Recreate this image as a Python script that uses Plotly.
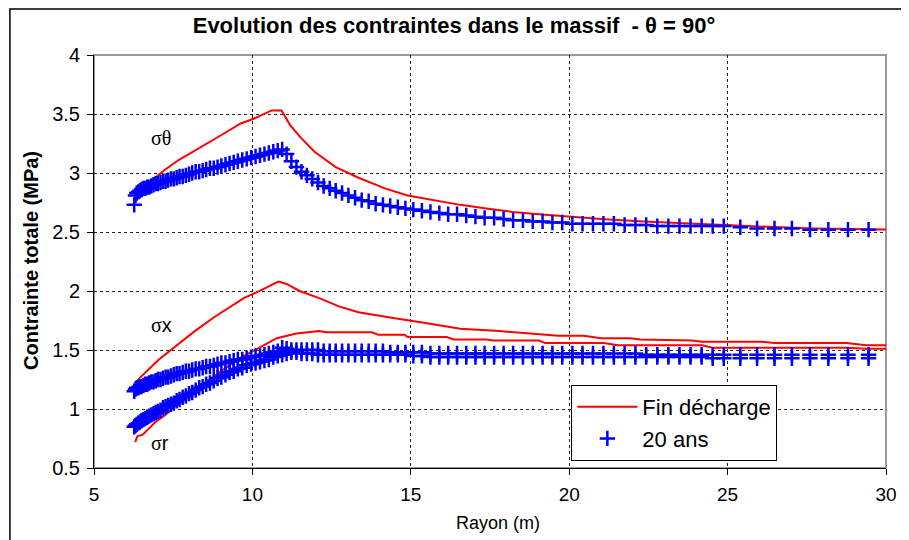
import plotly.graph_objects as go

# ---------------- data ----------------
# "Fin décharge" (red lines)
r_red_theta = [6.30, 6.50, 6.84, 7.25, 7.67, 8.39, 9.01, 9.63, 10.04, 10.61, 10.92, 11.18, 11.49, 11.96,
               12.63, 13.35, 14.18, 14.90, 15.73, 16.56, 17.38, 18.21, 19.04, 19.97, 21.00, 22.34,
               23.88, 25.65, 27.72, 30.20]
s_red_theta = [2.82, 2.86, 2.94, 3.03, 3.11, 3.22, 3.32, 3.42, 3.46, 3.53, 3.53, 3.41, 3.31, 3.18,
               3.05, 2.96, 2.87, 2.81, 2.77, 2.73, 2.70, 2.67, 2.65, 2.63, 2.61, 2.59,
               2.57, 2.55, 2.53, 2.52]

r_red_x = [6.32, 6.43, 7.05, 7.56, 8.18, 8.80, 9.32, 9.73, 10.15, 10.51, 10.82, 11.08, 11.49, 12.11,
           12.73, 13.35, 13.87, 14.49, 15.42, 16.56, 17.80, 18.83, 19.66, 20.47, 21.00, 21.93,
           22.24, 23.88, 24.19, 26.05, 26.48, 28.75, 29.37, 30.20]
s_red_x = [1.22, 1.26, 1.42, 1.53, 1.66, 1.78, 1.87, 1.94, 1.99, 2.04, 2.08, 2.06, 2.00, 1.94,
           1.87, 1.82, 1.80, 1.77, 1.73, 1.68, 1.66, 1.64, 1.62, 1.62, 1.60, 1.60,
           1.59, 1.58, 1.57, 1.57, 1.56, 1.56, 1.54, 1.54]

r_red_r = [6.30, 6.37, 6.53, 6.94, 7.25, 7.67, 8.29, 8.91, 9.53, 10.15, 10.77, 11.39, 12.11, 12.32,
           13.77, 13.97, 14.80, 14.90, 16.14, 16.35, 17.38, 17.59, 19.04, 19.24, 21.10, 21.52,
           24.20, 24.51, 28.75, 29.37, 30.20]
s_red_r = [0.72, 0.77, 0.78, 0.89, 0.95, 1.05, 1.18, 1.30, 1.42, 1.51, 1.60, 1.64, 1.66, 1.65,
           1.65, 1.63, 1.63, 1.61, 1.61, 1.59, 1.59, 1.58, 1.58, 1.56, 1.56, 1.54,
           1.54, 1.52, 1.52, 1.51, 1.51]

# "20 ans" (blue crosses) - shared radius grid
r_blue = [6.27, 6.31, 6.35, 6.40, 6.45, 6.50, 6.56, 6.62, 6.68, 6.74, 6.81, 6.88, 6.95, 7.02, 7.10,
          7.18, 7.26, 7.34, 7.43, 7.52, 7.61, 7.70, 7.80, 7.90, 8.00,
          8.10, 8.21, 8.32, 8.43, 8.54, 8.66, 8.78, 8.90, 9.02, 9.15, 9.28, 9.41, 9.54, 9.68, 9.82,
          9.96, 10.10, 10.24, 10.38, 10.52, 10.66, 10.80, 10.94, 11.08,
          11.23, 11.39, 11.55, 11.72, 11.89, 12.07, 12.25, 12.44, 12.63, 12.83, 13.03, 13.24, 13.45,
          13.67, 13.89, 14.12, 14.35, 14.59, 14.83, 15.08,
          15.35, 15.62, 15.90, 16.18, 16.46, 16.75, 17.04, 17.33, 17.63, 17.93, 18.23, 18.54, 18.85,
          19.16, 19.47, 19.78, 20.10, 20.42, 20.75, 21.08, 21.41, 21.75, 22.09, 22.43, 22.78, 23.13,
          23.48, 23.83, 24.18, 24.53, 24.88,
          25.40, 25.93, 26.48, 27.03, 27.60, 28.18, 28.80, 29.45]
s_blue_theta = [2.73, 2.81, 2.83, 2.84, 2.85, 2.86, 2.87, 2.87, 2.88, 2.88, 2.89, 2.90, 2.91, 2.91, 2.92,
                2.93, 2.93, 2.94, 2.95, 2.95, 2.96, 2.97, 2.97, 2.98, 2.99,
                3.00, 3.01, 3.01, 3.02, 3.03, 3.04, 3.04, 3.05, 3.06, 3.07, 3.08, 3.09, 3.10, 3.11, 3.12,
                3.13, 3.14, 3.15, 3.16, 3.17, 3.18, 3.19, 3.20, 3.16,
                3.10, 3.05, 3.01, 2.98, 2.95, 2.92, 2.89, 2.87, 2.85, 2.83, 2.81, 2.79, 2.77,
                2.76, 2.74, 2.73, 2.72, 2.71, 2.70, 2.69,
                2.68, 2.67, 2.66, 2.65, 2.65, 2.64, 2.63, 2.62, 2.62, 2.61, 2.60, 2.60, 2.59,
                2.59, 2.58, 2.58, 2.57, 2.57, 2.57, 2.57, 2.57, 2.56, 2.56, 2.56, 2.55, 2.55,
                2.55, 2.55, 2.55, 2.55, 2.55,
                2.54, 2.53, 2.53, 2.53, 2.52, 2.52, 2.52, 2.52]
s_blue_x = [1.15, 1.17, 1.18, 1.18, 1.19, 1.19, 1.20, 1.21, 1.21, 1.22, 1.23, 1.23, 1.24, 1.25, 1.25,
            1.26, 1.27, 1.27, 1.28, 1.29, 1.30, 1.30, 1.31, 1.32, 1.32,
            1.33, 1.34, 1.34, 1.35, 1.36, 1.36, 1.37, 1.38, 1.39, 1.39, 1.40, 1.41, 1.42, 1.42, 1.43,
            1.44, 1.45, 1.45, 1.46, 1.47, 1.48, 1.49, 1.52, 1.51,
            1.50, 1.50, 1.50, 1.50, 1.50, 1.50, 1.49, 1.49, 1.49, 1.49, 1.49, 1.49, 1.49,
            1.49, 1.49, 1.49, 1.48, 1.48, 1.48, 1.48,
            1.48, 1.47, 1.47, 1.47, 1.47, 1.47, 1.47, 1.47, 1.47, 1.47, 1.47, 1.47, 1.47,
            1.47, 1.47, 1.47, 1.47, 1.47, 1.47, 1.47, 1.47, 1.47, 1.47, 1.46, 1.46, 1.46,
            1.46, 1.46, 1.46, 1.46, 1.46,
            1.46, 1.46, 1.46, 1.46, 1.46, 1.46, 1.46, 1.46]
s_blue_r = [0.85, 0.86, 0.87, 0.88, 0.89, 0.90, 0.91, 0.92, 0.93, 0.94, 0.95, 0.96, 0.97, 0.98, 0.99,
            1.01, 1.02, 1.03, 1.04, 1.05, 1.07, 1.08, 1.10, 1.11, 1.13,
            1.14, 1.16, 1.18, 1.19, 1.21, 1.22, 1.24, 1.26, 1.27, 1.29, 1.31, 1.32, 1.34, 1.35, 1.37,
            1.38, 1.39, 1.40, 1.41, 1.42, 1.44, 1.45, 1.46, 1.47,
            1.48, 1.48, 1.47, 1.47, 1.47, 1.46, 1.46, 1.46, 1.46, 1.46, 1.46, 1.46, 1.46,
            1.46, 1.46, 1.46, 1.46, 1.46, 1.46, 1.45,
            1.45, 1.44, 1.44, 1.44, 1.44, 1.44, 1.44, 1.44, 1.44, 1.44, 1.44, 1.44, 1.44,
            1.44, 1.44, 1.44, 1.44, 1.44, 1.44, 1.44, 1.44, 1.44, 1.44, 1.44, 1.44, 1.44,
            1.44, 1.44, 1.44, 1.43, 1.43,
            1.43, 1.43, 1.43, 1.43, 1.43, 1.43, 1.43, 1.43]

legend_names = ["Fin décharge", "20 ans"]
curve_labels = ["σθ", "σx", "σr"]
title_text = "Evolution des contraintes dans le massif  - θ = 90°"
x_title = "Rayon (m)"
y_title = "Contrainte totale (MPa)"
x_ticks = [5, 10, 15, 20, 25, 30]
y_ticks = [0.5, 1, 1.5, 2, 2.5, 3, 3.5, 4]

# ---------------- figure ----------------
FONT = "Liberation Sans, Arial, sans-serif"
SERIF = "Liberation Serif, Times New Roman, serif"
RED = "#FF0000"
BLUE = "#0000FF"

# page body has an 8px margin: the figure is sized so that it ends at the window edge
W, H = 901, 532
OFF = 8
PL, PR, PT, PB = 94, 897, 55, 468   # plot area in window pixels


def px_x(px):
    return (px - PL) / (PR - PL)


def px_y(py):
    return (PB - py) / (PB - PT)


fig = go.Figure()

red_sets = [(r_red_theta, s_red_theta), (r_red_x, s_red_x), (r_red_r, s_red_r)]
blue_sets = [s_blue_theta, s_blue_x, s_blue_r]

red_traces = []
for i, (rr, ss) in enumerate(red_sets):
    red_traces.append(go.Scatter(x=rr, y=ss, mode="lines", name=legend_names[0],
                                 legendgroup="red", showlegend=(i == 0),
                                 line=dict(color=RED, width=2)))
blue_traces = []
for i, ss in enumerate(blue_sets):
    blue_traces.append(go.Scatter(x=r_blue, y=ss, mode="markers", name=legend_names[1],
                                  legendgroup="blue", showlegend=(i == 0),
                                  marker=dict(symbol="cross-thin", size=11, color=BLUE,
                                              line=dict(color=BLUE, width=2.5))))

for t in [red_traces[0], blue_traces[0], red_traces[1], red_traces[2], blue_traces[1], blue_traces[2]]:
    fig.add_trace(t)

axis_common = dict(showline=True, linecolor="black", linewidth=1, ticks="outside", ticklen=6,
                   tickcolor="black", showgrid=True, gridcolor="#222222", griddash="dot",
                   gridwidth=1, zeroline=False)

fig.update_xaxes(range=[5, 30], tickvals=x_ticks, ticklabelstandoff=3,
                 tickfont=dict(family=FONT, size=19, color="black"), **axis_common)
fig.update_yaxes(range=[0.5, 4], tickvals=y_ticks, ticklabelstandoff=3,
                 tickfont=dict(family=FONT, size=20, color="black"), **axis_common)

fig.update_layout(
    width=W, height=H,
    margin=dict(l=PL - OFF, r=OFF + W - PR, t=PT - OFF, b=OFF + H - PB),
    paper_bgcolor="white", plot_bgcolor="white",
    title=dict(text="<b>" + title_text + "</b>", x=px_x(459), xref="paper", xanchor="center",
               y=1 - (25 - OFF) / H, yref="container", yanchor="middle",
               font=dict(family=FONT, size=22, color="black")),
    legend=dict(x=px_x(578), y=px_y(385), xanchor="left", yanchor="top",
                bgcolor="white", bordercolor="black", borderwidth=1,
                font=dict(family=FONT, size=22, color="black"), traceorder="normal",
                itemwidth=60, tracegroupgap=0),
    showlegend=True,
)

# plot-area border (grey top/right) and outer chart border
fig.add_shape(type="rect", xref="paper", yref="paper", x0=0, x1=1, y0=0, y1=1,
              line=dict(color="#999999", width=2), layer="below")
fig.add_shape(type="rect", xref="paper", yref="paper", x0=px_x(OFF + 0.75), x1=1.2,
              y0=-0.5, y1=px_y(9), line=dict(color="black", width=1.5))

# curve labels
lab_pos = [(162, 138), (162, 325), (161, 443)]
for lab, (px, py) in zip(curve_labels, lab_pos):
    if lab == "σθ":
        txt = lab
        fam = SERIF
    else:
        txt = "<span style='font-family:" + SERIF + "'>σ</span>" + lab[1]
        fam = FONT
    fig.add_annotation(text=txt, xref="paper", yref="paper",
                       x=px_x(px), y=px_y(py), showarrow=False,
                       xanchor="center", yanchor="middle",
                       font=dict(family=fam, size=20, color="black"))

# axis titles
fig.add_annotation(text="<b>" + y_title + "</b>", xref="paper", yref="paper",
                   x=px_x(30), y=px_y(260), textangle=-90, showarrow=False,
                   xanchor="center", yanchor="middle",
                   font=dict(family=FONT, size=20, color="black"))
fig.add_annotation(text=x_title, xref="paper", yref="paper",
                   x=px_x(504), y=px_y(523), showarrow=False,
                   xanchor="center", yanchor="middle",
                   font=dict(family=FONT, size=18, color="black"))

fig.write_html("out.html")
